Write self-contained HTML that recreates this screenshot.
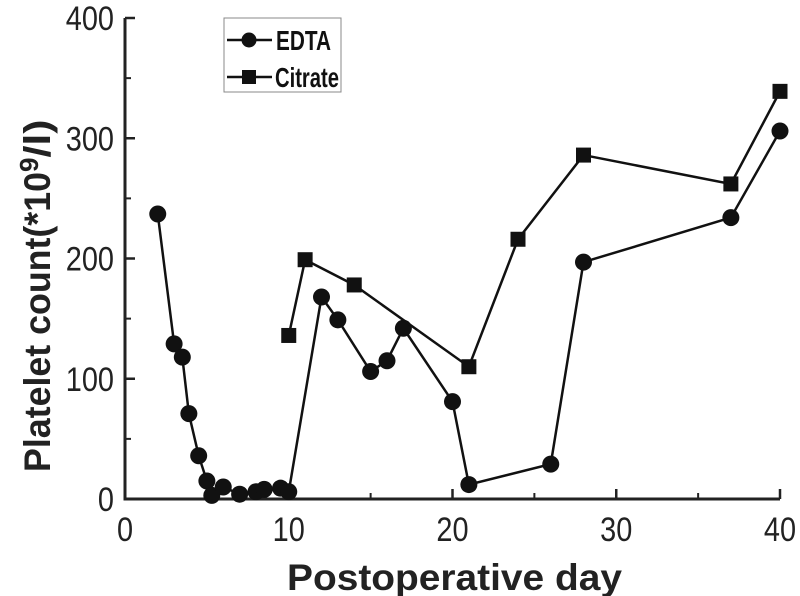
<!DOCTYPE html>
<html><head><meta charset="utf-8"><style>
body{margin:0;background:#fff}
svg{display:block;font-family:"Liberation Sans",sans-serif}
</style></head><body>
<svg id="c" width="800" height="596"></svg>
<script>
const edtaDays=[2,3,3.5,3.9,4.5,5,5.3,6,7,8,8.5,9.5,10,12,13,15,16,17,20,21,26,28,37,40];
const edtaVals=[237,129,118,71,36,15,3,10,4,6,8,9,6,168,149,106,115,142,81,12,29,197,234,306];
const citDays=[10,11,14,21,24,28,37,40];
const citVals=[136,199,178,110,216,286,262,339];
const xTicks=[0,10,20,30,40];
const yTicks=[0,100,200,300,400];
const NS="http://www.w3.org/2000/svg";
const svg=document.getElementById('c');
const X=d=>125+d*16.375, Y=v=>499-v*1.2025;
function mk(t,a,p){const e=document.createElementNS(NS,t);for(const k in a)e.setAttribute(k,a[k]);(p||svg).appendChild(e);return e;}
const ax=mk('g',{});


mk('path',{d:`M125 ${Y(400)} V499 H${X(40)}`,stroke:'#222',fill:'none','stroke-width':3},ax);
yTicks.forEach(v=>{mk('line',{x1:125,x2:135,y1:Y(v),y2:Y(v),stroke:'#222','stroke-width':2.5},ax);
 if(v<400)mk('line',{x1:125,x2:131,y1:Y(v+50),y2:Y(v+50),stroke:'#222','stroke-width':2},ax);
 const t=mk('text',{transform:`translate(114,${Y(v)+12}) scale(0.85,1)`,'text-anchor':'end','font-size':34,fill:'#222'},ax);t.textContent=v;
 
 });
xTicks.forEach(d=>{mk('line',{x1:X(d),x2:X(d),y1:499,y2:489,stroke:'#222','stroke-width':2.5},ax);
 if(d<40)mk('line',{x1:X(d+5),x2:X(d+5),y1:499,y2:493,stroke:'#222','stroke-width':2},ax);
 const t=mk('text',{transform:`translate(${X(d)},541) scale(0.85,1)`,'text-anchor':'middle','font-size':34,fill:'#222'},ax);t.textContent=d;
 
 });
const xt=mk('text',{x:287,y:590,'font-size':37,'font-weight':'bold',fill:'#222',textLength:335,lengthAdjust:'spacingAndGlyphs'});
xt.textContent='Postoperative day';


const yt=mk('text',{transform:'translate(50,472) rotate(-90)','font-size':37,'font-weight':'bold',fill:'#222'});
yt.innerHTML='<tspan textLength="300" lengthAdjust="spacingAndGlyphs">Platelet count(*10</tspan><tspan dy="-12" font-size="26">9</tspan><tspan dy="12" textLength="38" lengthAdjust="spacingAndGlyphs">/l)</tspan>';


function series(days,vals,shape,name){
 const g=mk('g',{});
 
 
 mk('polyline',{points:days.map((d,i)=>X(d)+','+Y(vals[i])).join(' '),fill:'none',stroke:'#111','stroke-width':2.5},g);
 days.forEach((d,i)=>{let m;
  if(shape==='c')m=mk('circle',{cx:X(d),cy:Y(vals[i]),r:8.5,fill:'#111'},g);
  else m=mk('rect',{x:X(d)-7.5,y:Y(vals[i])-7.5,width:15,height:15,fill:'#111'},g);
  
  });
}
series(edtaDays,edtaVals,'c','edta-series');
series(citDays,citVals,'s','citrate-series');
const lg=mk('g',{});


mk('rect',{x:224,y:18,width:117,height:74,fill:'#fff',stroke:'#888','stroke-width':1},lg);
mk('line',{x1:227,x2:272,y1:40,y2:40,stroke:'#111','stroke-width':2.5},lg);
mk('circle',{cx:249,cy:40,r:7.5,fill:'#111'},lg);
mk('line',{x1:227,x2:272,y1:77,y2:77,stroke:'#111','stroke-width':2.5},lg);
mk('rect',{x:242,y:70,width:14,height:14,fill:'#111'},lg);
let t1=mk('text',{x:276,y:50,'font-size':28,'font-weight':'bold',fill:'#111',textLength:55,lengthAdjust:'spacingAndGlyphs'},lg);t1.textContent='EDTA';


let t2=mk('text',{x:275,y:87,'font-size':28,'font-weight':'bold',fill:'#111',textLength:64,lengthAdjust:'spacingAndGlyphs'},lg);t2.textContent='Citrate';


</script>
</body></html>
